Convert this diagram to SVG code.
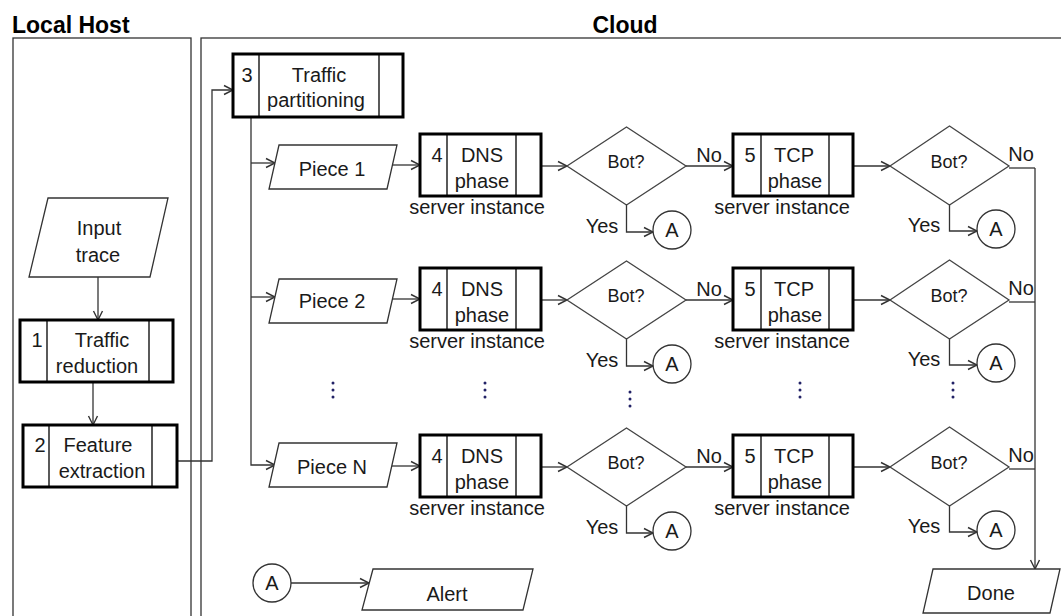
<svg xmlns="http://www.w3.org/2000/svg" width="1061" height="616" viewBox="0 0 1061 616">
<defs>
<marker id="arr" markerWidth="12" markerHeight="12" refX="10" refY="6" orient="auto" markerUnits="userSpaceOnUse">
<path d="M1,1.5 L10,6 L1,10.5" fill="none" stroke="#333" stroke-width="1.4"/>
</marker>
</defs>
<style>
text{font-family:"Liberation Sans",Arial,sans-serif;font-size:20px;fill:#1a1a1a;text-anchor:middle}
.title{font-size:23px;font-weight:bold;fill:#000}
.bot{font-size:18px}
.panel{fill:none;stroke:#333;stroke-width:1.3}
.box{fill:#fff;stroke:#000;stroke-width:3}
.div{stroke:#000;stroke-width:1.3}
.io{fill:#fff;stroke:#333;stroke-width:1.3}
.dia{fill:#fff;stroke:#444;stroke-width:1.3}
.conn path{fill:none;stroke:#333;stroke-width:1.3}
.dot{fill:#222266}
</style>
<rect width="1061" height="616" fill="#fff"/>
<g id="panels">
<rect class="panel" x="13" y="38" width="178" height="600"/>
<rect class="panel" x="201" y="38" width="900" height="600"/>
<text class="title" x="12" y="33" style="text-anchor:start">Local Host</text>
<text class="title" x="625" y="33">Cloud</text>
</g>
<g id="connectors" class="conn">
<path d="M98,277 V320" marker-end="url(#arr)"/>
<path d="M93,382 V425" marker-end="url(#arr)"/>
<path d="M177,461 H212 V90 H233" marker-end="url(#arr)"/>
<path d="M251,117 V465 H275" marker-end="url(#arr)"/>
<path d="M251,163 H275" marker-end="url(#arr)"/>
<path d="M251,297 H275" marker-end="url(#arr)"/>
<path d="M392,165 H420" marker-end="url(#arr)"/>
<path d="M541,166 H567" marker-end="url(#arr)"/>
<path d="M686,166 H733" marker-end="url(#arr)"/>
<path d="M853,166 H890" marker-end="url(#arr)"/>
<path d="M626.5,205 V232 H653" marker-end="url(#arr)"/>
<path d="M949.5,205 V231 H977" marker-end="url(#arr)"/>
<path d="M1009,168 H1035"/>
<path d="M392,299 H420" marker-end="url(#arr)"/>
<path d="M541,300 H567" marker-end="url(#arr)"/>
<path d="M686,300 H733" marker-end="url(#arr)"/>
<path d="M853,300 H890" marker-end="url(#arr)"/>
<path d="M626.5,339 V366 H653" marker-end="url(#arr)"/>
<path d="M949.5,339 V365 H977" marker-end="url(#arr)"/>
<path d="M1009,302 H1035"/>
<path d="M392,466 H420" marker-end="url(#arr)"/>
<path d="M541,467 H567" marker-end="url(#arr)"/>
<path d="M686,467 H733" marker-end="url(#arr)"/>
<path d="M853,467 H890" marker-end="url(#arr)"/>
<path d="M626.5,506 V533 H653" marker-end="url(#arr)"/>
<path d="M949.5,506 V532 H977" marker-end="url(#arr)"/>
<path d="M1009,469 H1035"/>
<path d="M1035,168 V569" marker-end="url(#arr)"/>
<path d="M291,583 H369" marker-end="url(#arr)"/>
<text x="709" y="162">No</text>
<text x="709" y="296">No</text>
<text x="709" y="463">No</text>
<text x="1021" y="161">No</text>
<text x="1021" y="295">No</text>
<text x="1021" y="462">No</text>
<text x="602" y="233">Yes</text>
<text x="602" y="367">Yes</text>
<text x="602" y="534">Yes</text>
<text x="924" y="232">Yes</text>
<text x="924" y="366">Yes</text>
<text x="924" y="533">Yes</text>
</g>
<g id="input-trace">
<polygon class="io" points="48,198 168,198 150,277 29,277"/>
<text x="99" y="235">Input</text>
<text x="98" y="262">trace</text>
</g>
<g id="n1-traffic-reduction">
<rect class="box" x="20" y="320" width="153" height="62"/>
<line class="div" x1="47" y1="320" x2="47" y2="382"/>
<line class="div" x1="149" y1="320" x2="149" y2="382"/>
<text x="37" y="347">1</text>
<text x="102" y="347">Traffic</text>
<text x="97" y="373">reduction</text>
</g>
<g id="n2-feature-extraction">
<rect class="box" x="23" y="425" width="154" height="62"/>
<line class="div" x1="49" y1="425" x2="49" y2="487"/>
<line class="div" x1="152" y1="425" x2="152" y2="487"/>
<text x="40" y="452">2</text>
<text x="98" y="452">Feature</text>
<text x="102" y="478">extraction</text>
</g>
<g id="n3-traffic-partitioning">
<rect class="box" x="233" y="54" width="170" height="63"/>
<line class="div" x1="259" y1="54" x2="259" y2="117"/>
<line class="div" x1="379" y1="54" x2="379" y2="117"/>
<text x="247" y="82">3</text>
<text x="319" y="82">Traffic</text>
<text x="316" y="107">partitioning</text>
</g>
<g id="piece1">
<polygon class="io" points="279,145 397,145 387,189 269,189"/>
<text x="332" y="176">Piece 1</text>
</g>
<g id="piece2">
<polygon class="io" points="279,279 397,279 387,323 269,323"/>
<text x="332" y="308">Piece 2</text>
</g>
<g id="pieceN">
<polygon class="io" points="279,443 397,443 387,487 269,487"/>
<text x="332" y="474">Piece N</text>
</g>
<g id="dns1">
<rect class="box" x="420" y="134" width="121" height="62"/>
<line class="div" x1="447" y1="134" x2="447" y2="196"/>
<line class="div" x1="516" y1="134" x2="516" y2="196"/>
<text x="437" y="162">4</text><text x="482" y="162">DNS</text><text x="482" y="188">phase</text>
<text x="477" y="214">server instance</text>
</g>
<g id="dns2">
<rect class="box" x="420" y="268" width="121" height="62"/>
<line class="div" x1="447" y1="268" x2="447" y2="330"/>
<line class="div" x1="516" y1="268" x2="516" y2="330"/>
<text x="437" y="296">4</text><text x="482" y="296">DNS</text><text x="482" y="322">phase</text>
<text x="477" y="348">server instance</text>
</g>
<g id="dnsN">
<rect class="box" x="420" y="435" width="121" height="62"/>
<line class="div" x1="447" y1="435" x2="447" y2="497"/>
<line class="div" x1="516" y1="435" x2="516" y2="497"/>
<text x="437" y="463">4</text><text x="482" y="463">DNS</text><text x="482" y="489">phase</text>
<text x="477" y="515">server instance</text>
</g>
<g id="bot-dns1"><polygon class="dia" points="567,166 626.5,127 686,166 626.5,205"/><text class="bot" x="626" y="168">Bot?</text></g>
<g id="bot-dns2"><polygon class="dia" points="567,300 626.5,261 686,300 626.5,339"/><text class="bot" x="626" y="302">Bot?</text></g>
<g id="bot-dnsN"><polygon class="dia" points="567,467 626.5,428 686,467 626.5,506"/><text class="bot" x="626" y="469">Bot?</text></g>
<g id="a-dns1"><circle class="io" cx="672" cy="230" r="19"/><text x="672" y="237">A</text></g>
<g id="a-dns2"><circle class="io" cx="672" cy="364" r="19"/><text x="672" y="371">A</text></g>
<g id="a-dnsN"><circle class="io" cx="672" cy="531" r="19"/><text x="672" y="538">A</text></g>
<g id="tcp1">
<rect class="box" x="733" y="134" width="120" height="62"/>
<line class="div" x1="761" y1="134" x2="761" y2="196"/>
<line class="div" x1="829" y1="134" x2="829" y2="196"/>
<text x="750" y="162">5</text><text x="794" y="162">TCP</text><text x="795" y="188">phase</text>
<text x="782" y="214">server instance</text>
</g>
<g id="tcp2">
<rect class="box" x="733" y="268" width="120" height="62"/>
<line class="div" x1="761" y1="268" x2="761" y2="330"/>
<line class="div" x1="829" y1="268" x2="829" y2="330"/>
<text x="750" y="296">5</text><text x="794" y="296">TCP</text><text x="795" y="322">phase</text>
<text x="782" y="348">server instance</text>
</g>
<g id="tcpN">
<rect class="box" x="733" y="435" width="120" height="62"/>
<line class="div" x1="761" y1="435" x2="761" y2="497"/>
<line class="div" x1="829" y1="435" x2="829" y2="497"/>
<text x="750" y="463">5</text><text x="794" y="463">TCP</text><text x="795" y="489">phase</text>
<text x="782" y="515">server instance</text>
</g>
<g id="bot-tcp1"><polygon class="dia" points="890,166 949.5,126 1009,166 949.5,205"/><text class="bot" x="949" y="168">Bot?</text></g>
<g id="bot-tcp2"><polygon class="dia" points="890,300 949.5,260 1009,300 949.5,339"/><text class="bot" x="949" y="302">Bot?</text></g>
<g id="bot-tcpN"><polygon class="dia" points="890,467 949.5,427 1009,467 949.5,506"/><text class="bot" x="949" y="469">Bot?</text></g>
<g id="a-tcp1"><circle class="io" cx="996" cy="229" r="19"/><text x="996" y="236">A</text></g>
<g id="a-tcp2"><circle class="io" cx="996" cy="363" r="19"/><text x="996" y="370">A</text></g>
<g id="a-tcpN"><circle class="io" cx="996" cy="530" r="19"/><text x="996" y="537">A</text></g>
<g id="ellipses">
<circle class="dot" cx="333" cy="383" r="1.5"/><circle class="dot" cx="333" cy="390" r="1.5"/><circle class="dot" cx="333" cy="397" r="1.5"/>
<circle class="dot" cx="485" cy="383" r="1.5"/><circle class="dot" cx="485" cy="390" r="1.5"/><circle class="dot" cx="485" cy="397" r="1.5"/>
<circle class="dot" cx="630" cy="392" r="1.5"/><circle class="dot" cx="630" cy="399" r="1.5"/><circle class="dot" cx="630" cy="406" r="1.5"/>
<circle class="dot" cx="800" cy="383" r="1.5"/><circle class="dot" cx="800" cy="390" r="1.5"/><circle class="dot" cx="800" cy="397" r="1.5"/>
<circle class="dot" cx="953" cy="383" r="1.5"/><circle class="dot" cx="953" cy="390" r="1.5"/><circle class="dot" cx="953" cy="397" r="1.5"/>
</g>
<g id="a-bottom"><circle class="io" cx="272" cy="583" r="19"/><text x="272" y="590">A</text></g>
<g id="alert">
<polygon class="io" points="373,569 533,569 523,610 362,610"/>
<text x="447" y="601">Alert</text>
</g>
<g id="done">
<polygon class="io" points="933,569 1060,569 1050,613 923,613"/>
<text x="991" y="600">Done</text>
</g>
</svg>
